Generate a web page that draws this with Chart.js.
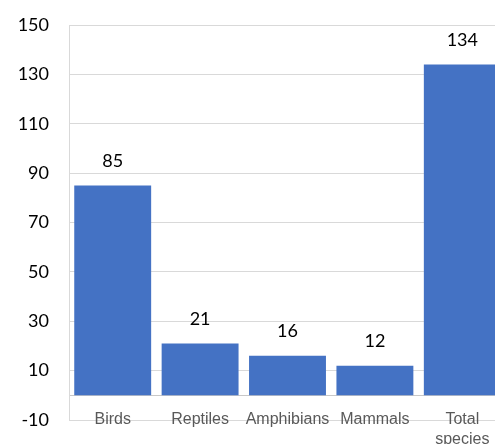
<!DOCTYPE html>
<html>
<head>
<meta charset="utf-8">
<script src="https://cdn.jsdelivr.net/npm/chart.js"></script>
<style>
    html, body { margin: 0; padding: 0; background: #fff; overflow: hidden; }
    #wrap { width: 495px; height: 444px; overflow: hidden; }
</style>
</head>
<body>
<div id="wrap">
    <canvas id="speciesChart" width="520" height="444"></canvas>
</div>
<script>
const categories = ['Birds', 'Reptiles', 'Amphibians', 'Mammals', ['Total', 'species']];
const speciesCounts = [85, 21, 16, 12, 134];
const yMin = -10;
const yMax = 150;
const yStep = 20;

// draws the value above each bar (no datalabels plugin available offline)
const barValueLabels = {
    id: 'barValueLabels',
    afterDatasetsDraw(chart) {
        const ctx = chart.ctx;
        const meta = chart.getDatasetMeta(0);
        ctx.save();
        ctx.font = '18px Lato';
        ctx.fillStyle = '#000000';
        ctx.textAlign = 'center';
        ctx.textBaseline = 'middle';
        meta.data.forEach((bar, i) => {
            ctx.fillText(String(chart.data.datasets[0].data[i]), bar.x, bar.y - 24.5);
        });
        ctx.restore();
    }
};

function render() {
    const data = {
        labels: categories,
        datasets: [{
            label: 'Species',
            data: speciesCounts,
            backgroundColor: '#4472C4',
            borderWidth: 0,
            categoryPercentage: 1,
            barPercentage: 0.88
        }]
    };

    const config = {
        type: 'bar',
        data: data,
        plugins: [barValueLabels],
        options: {
            responsive: false,
            animation: false,
            layout: {
                padding: { top: 25, bottom: 24, left: 0, right: 14 }
            },
            plugins: {
                legend: { display: false },
                tooltip: { enabled: false }
            },
            scales: {
                x: {
                    position: { y: 0 },
                    grid: { display: false, drawTicks: false },
                    border: { display: true, color: '#c8c8c8', width: 1 },
                    ticks: {
                        color: '#595959',
                        font: { family: 'Liberation Sans', size: 16 },
                        padding: 15,
                        maxRotation: 0,
                        autoSkip: false
                    }
                },
                y: {
                    min: yMin,
                    max: yMax,
                    // tick length used as the gap between labels and the plot edge
                    grid: { color: '#d9d9d9', drawTicks: true, tickLength: 20, tickColor: 'rgba(0,0,0,0)' },
                    border: { display: true, color: '#d9d9d9' },
                    ticks: {
                        stepSize: yStep,
                        color: '#000000',
                        font: { family: 'Lato', size: 18 },
                        padding: 0
                    },
                    afterFit(scale) {
                        scale.width = 69;
                    }
                }
            }
        }
    };

    const ctx = document.getElementById('speciesChart').getContext('2d');
    new Chart(ctx, config);
}

render();
</script>
</body>
</html>
